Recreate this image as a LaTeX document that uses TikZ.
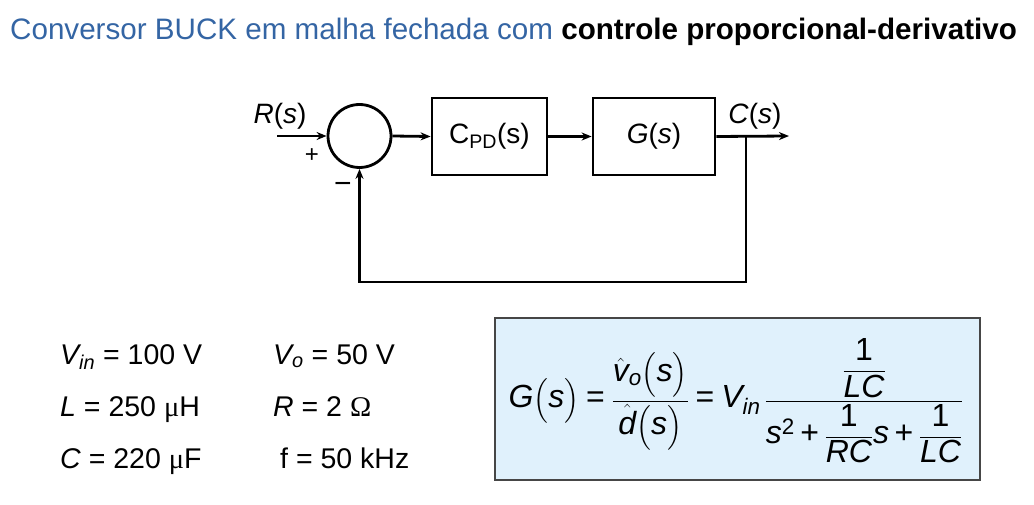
\documentclass[tikz,border=0pt]{standalone}
\usepackage{amsmath}
\usepackage{fontspec}
\setmainfont{Liberation Sans}
\newfontfamily\symserif{Liberation Serif}
\usetikzlibrary{arrows.meta}
\definecolor{titleblue}{RGB}{52,101,164}
\definecolor{eqfill}{RGB}{224,241,252}
\definecolor{eqborder}{RGB}{70,70,70}
\newcommand{\ti}[1]{\textit{#1}}
\newcommand{\teq}{\mathrel{\text{=}}}
\newcommand{\tplus}{\mathbin{\text{+}}}
\newcommand{\tone}{\text{1}\rule[-4pt]{0pt}{4pt}}
\begin{document}
\begin{tikzpicture}[x=1pt,y=-1pt,
  blockbox/.style={draw,line width=2.8pt,minimum width=115pt,minimum height=77pt,inner sep=0pt,font=\fontsize{28}{32}\selectfont},
  sumnode/.style={draw,circle,line width=2.8pt,minimum size=63pt,inner sep=0pt},
  arr/.style={line width=2.8pt,-{Stealth[length=10pt,width=8pt]}},
  lbl/.style={font=\fontsize{28}{32}\selectfont,inner sep=0pt},
  param/.style={font=\fontsize{28.5}{32}\selectfont,anchor=base west,inner sep=0pt}]
\useasboundingbox (0,0) rectangle (1034,505);
% title
\node[anchor=base west,inner sep=0pt,text=titleblue,font=\fontsize{29.6}{34}\selectfont] (title) at (10,40)
  {Conversor BUCK em malha fechada com \textcolor{black}{\bfseries controle proporcional-derivativo}};
% block diagram
\node[sumnode] (sum) at (359.5,136) {};
\node[blockbox,minimum width=115pt] (cpd) at (489.5,136.5) {C\textsubscript{PD}(s)};
\node[blockbox,minimum width=122pt] (g) at (654,136.5) {\ti{G}(\ti{s})};
\coordinate (rin) at (277,136);
\coordinate (out) at (789,136);
\coordinate (fb) at (746,136);
\coordinate (fbb) at (746,282);
\draw[arr] (rin) -- (sum.west);
\draw[arr] (sum.east) -- (cpd.west);
\draw[arr] (cpd.east) -- (g.west);
\draw[arr] (g.east) -- (out);
\draw[arr] (fb) -- (fbb) -| (sum.south);
\node[lbl,anchor=base] (rl) at (280,124) {\ti{R}(\ti{s})};
\node[lbl,anchor=base] (cl) at (755,124) {\ti{C}(\ti{s})};
\node[lbl,font=\fontsize{24}{28}\selectfont] (plus) at (312,156) {+};
\node[lbl,font=\fontsize{30}{34}\selectfont] (minus) at (343,188) {−};
% parameters
\node[param] (p1) at (60,364) {$\ti{V}_{\ti{in}}$ = 100 V};
\node[param] (p2) at (60,416) {\ti{L} = 250 {\symserif μ}H};
\node[param] (p3) at (60,468) {\ti{C} = 220 {\symserif μ}F};
\node[param] (p4) at (273,364) {$\ti{V}_{\ti{o}}$ = 50 V};
\node[param] (p5) at (273,416) {\ti{R} = 2 {\symserif Ω}};
\node[param] (p6) at (280,468) {f = 50 kHz};
% formula box
\draw[eqborder,fill=eqfill,line width=1.6pt] (495,318) rectangle (980,480);
\node[inner sep=0pt,anchor=center,font=\fontsize{32}{36}\selectfont] (eq) at (736,401)
  {$\ti{G}\Bigl(\ti{s}\Bigr) \teq \dfrac{\hat{\ti{v}}_{\ti{o}}\Bigl(\ti{s}\Bigr)}{\hat{\ti{d}}\Bigl(\ti{s}\Bigr)}
   \teq \ti{V}_{\ti{in}}\,\dfrac{\dfrac{\tone}{\ti{LC}}}{\ti{s}^{\text{2}}\tplus\dfrac{\tone}{\ti{RC}}\ti{s}\tplus\dfrac{\tone}{\ti{LC}}}$};
\end{tikzpicture}
\end{document}
